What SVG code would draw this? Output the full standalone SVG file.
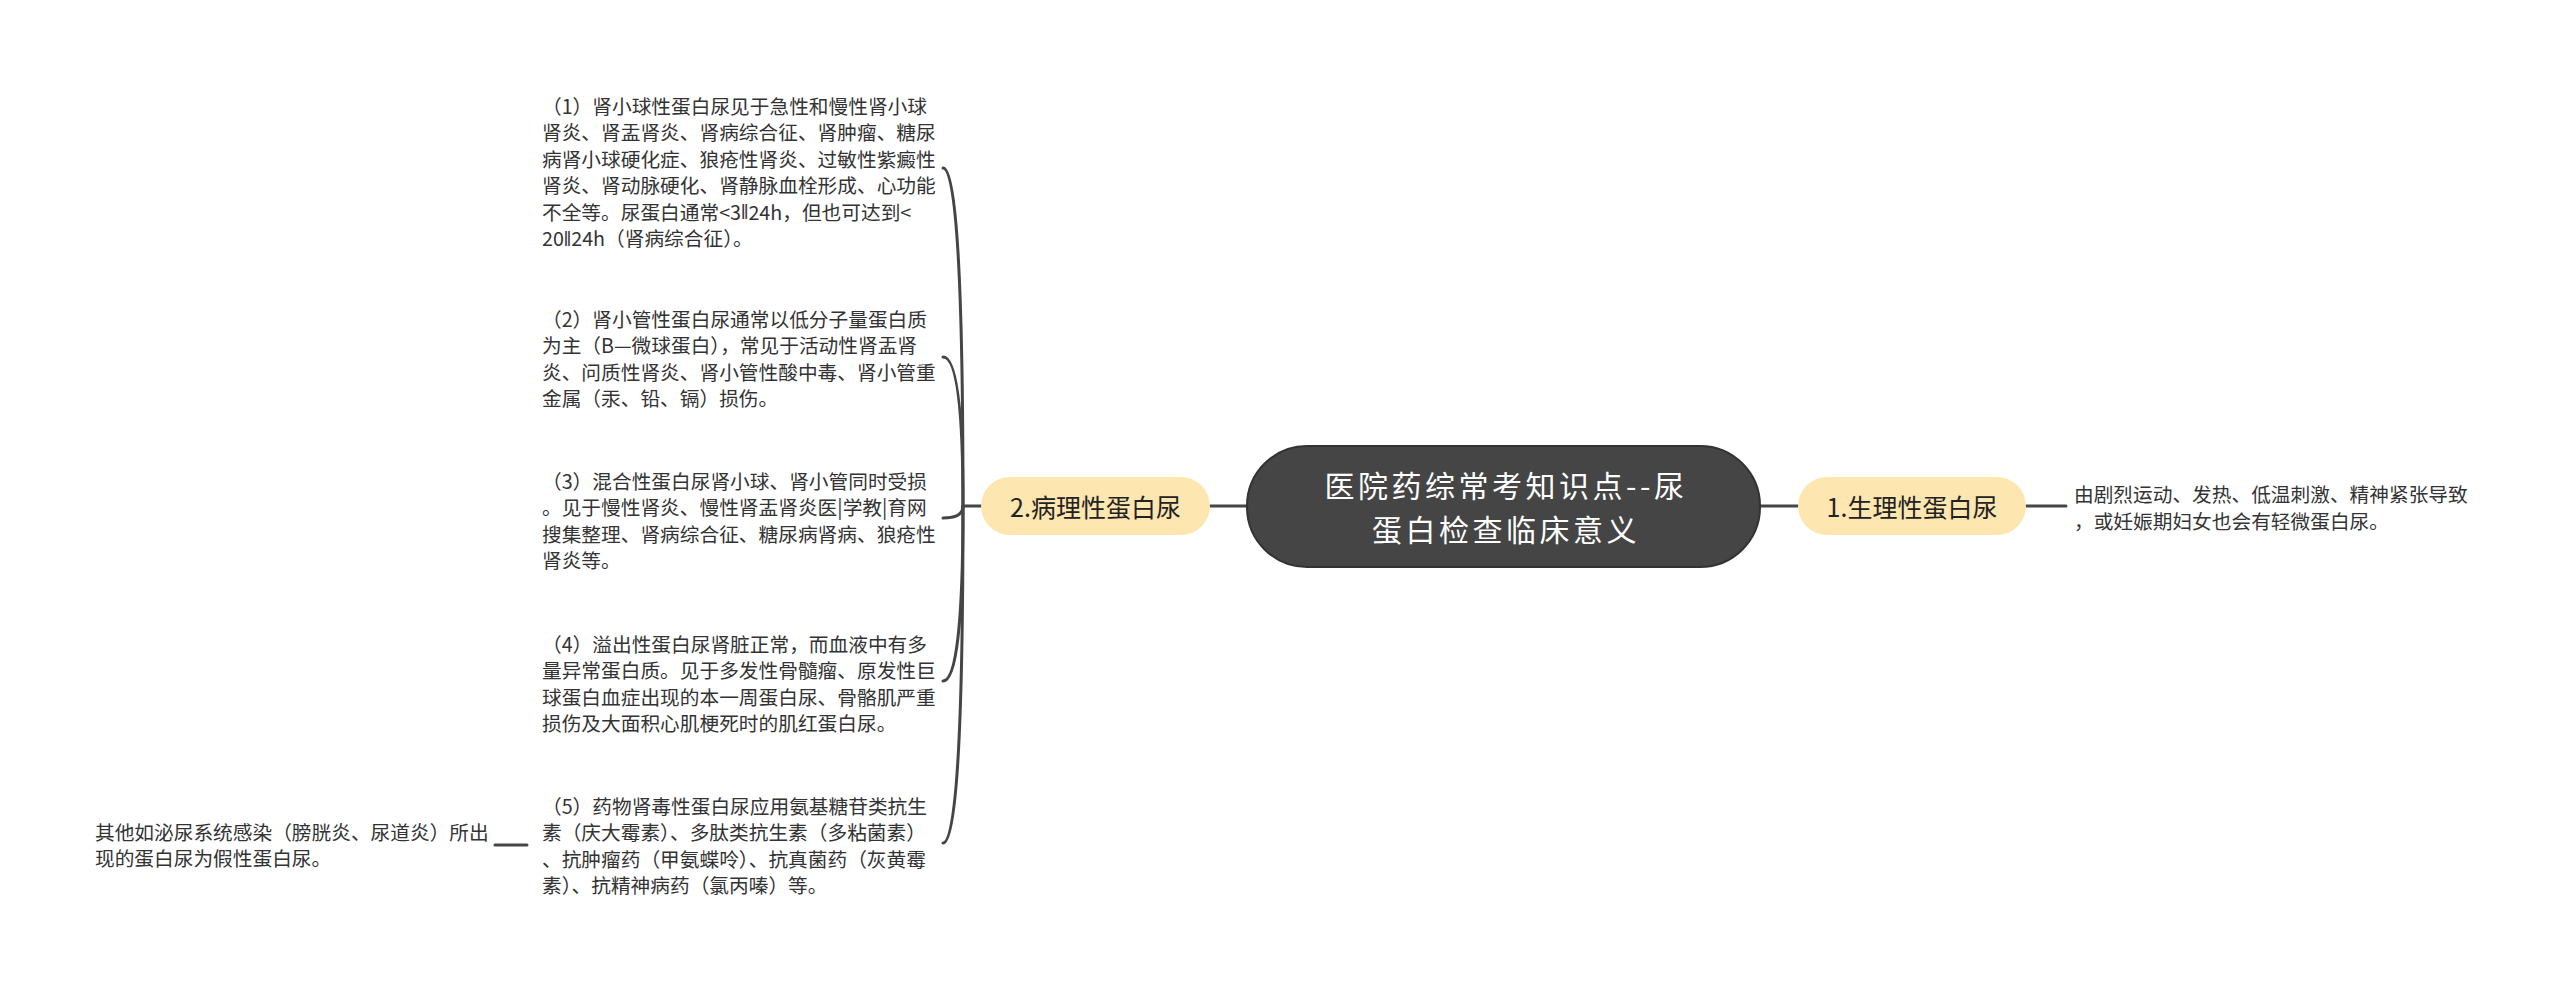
<svg xmlns="http://www.w3.org/2000/svg" width="2560" height="988" viewBox="0 0 2560 988">
<style>
  .bg { fill: #ffffff; }
  .conn { fill: none; stroke: #454545; stroke-width: 3; stroke-linecap: round; }
  .root { fill: #454545; stroke: #333333; stroke-width: 2; }
  .main { fill: #fde6b0; }
  .roott { font-family: "Noto Sans CJK SC", "Noto Sans", sans-serif; font-size: 30px; letter-spacing: 3.5px; fill: #ffffff; text-anchor: middle; dominant-baseline: central; }
  .maint { font-family: "Noto Sans CJK SC", "Noto Sans", sans-serif; font-size: 25px; fill: #222222; text-anchor: middle; dominant-baseline: central; }
  .leaf { font-family: "Noto Sans CJK SC", "Noto Sans", sans-serif; font-size: 19.7px; fill: #333333; dominant-baseline: central; }
  .bar { font-family: "DejaVu Sans", "Noto Sans", sans-serif; font-size: 15px; }
</style>
<rect class="bg" x="0" y="0" width="2560" height="988"/>
<g id="connectors">
  <path class="conn" d="M1247 506 L1210 506"/>
  <path class="conn" d="M1760 506 L1798 506"/>
  <path class="conn" d="M2026 506 L2066 506"/>
  <path class="conn" d="M981 506 L963 506"/>
  <path class="conn" d="M963 506 Q963 168 943 168"/>
  <path class="conn" d="M963 506 Q963 357 943 357"/>
  <path class="conn" d="M963 506 Q963 518 943 518"/>
  <path class="conn" d="M963 506 Q963 681 943 681"/>
  <path class="conn" d="M963 506 Q963 843 943 843"/>
  <path class="conn" d="M527 845 L495 845"/>
</g>
<g id="root">
  <rect class="root" x="1247" y="446" width="513" height="121" rx="60"/>
  <text class="roott" x="1506" y="484">医院药综常考知识点--尿</text>
  <text class="roott" x="1506" y="528">蛋白检查临床意义</text>
</g>
<g id="node-pathological">
  <rect class="main" x="981" y="477" width="229" height="58" rx="29"/>
  <text class="maint" x="1095.5" y="506">2.病理性蛋白尿</text>
</g>
<g id="node-physiological">
  <rect class="main" x="1798" y="477" width="228" height="58" rx="29"/>
  <text class="maint" x="1912" y="506">1.生理性蛋白尿</text>
</g>
<g id="leaf-physiological">
  <text class="leaf" x="2074" y="493">由剧烈运动、发热、低温刺激、精神紧张导致</text>
  <text class="leaf" x="2074" y="520">，或妊娠期妇女也会有轻微蛋白尿。</text>
</g>
<g id="leaf-1">
  <text class="leaf" x="542" y="105">（1）肾小球性蛋白尿见于急性和慢性肾小球</text>
  <text class="leaf" x="542" y="131.5">肾炎、肾盂肾炎、肾病综合征、肾肿瘤、糖尿</text>
  <text class="leaf" x="542" y="158">病肾小球硬化症、狼疮性肾炎、过敏性紫癜性</text>
  <text class="leaf" x="542" y="184.5">肾炎、肾动脉硬化、肾静脉血栓形成、心功能</text>
  <text class="leaf" x="542" y="211">不全等。尿蛋白通常&lt;3<tspan class="bar">ǁ</tspan>24h，但也可达到&lt;</text>
  <text class="leaf" x="542" y="237.5">20<tspan class="bar">ǁ</tspan>24h（肾病综合征）。</text>
</g>
<g id="leaf-2">
  <text class="leaf" x="542" y="318">（2）肾小管性蛋白尿通常以低分子量蛋白质</text>
  <text class="leaf" x="542" y="344.5">为主（B—微球蛋白），常见于活动性肾盂肾</text>
  <text class="leaf" x="542" y="371">炎、问质性肾炎、肾小管性酸中毒、肾小管重</text>
  <text class="leaf" x="542" y="397.5">金属（汞、铅、镉）损伤。</text>
</g>
<g id="leaf-3">
  <text class="leaf" x="542" y="480">（3）混合性蛋白尿肾小球、肾小管同时受损</text>
  <text class="leaf" x="542" y="506.5">。见于慢性肾炎、慢性肾盂肾炎医|学教|育网</text>
  <text class="leaf" x="542" y="533">搜集整理、肾病综合征、糖尿病肾病、狼疮性</text>
  <text class="leaf" x="542" y="559.5">肾炎等。</text>
</g>
<g id="leaf-4">
  <text class="leaf" x="542" y="643">（4）溢出性蛋白尿肾脏正常，而血液中有多</text>
  <text class="leaf" x="542" y="669.5">量异常蛋白质。见于多发性骨髓瘤、原发性巨</text>
  <text class="leaf" x="542" y="696">球蛋白血症出现的本一周蛋白尿、骨骼肌严重</text>
  <text class="leaf" x="542" y="722.5">损伤及大面积心肌梗死时的肌红蛋白尿。</text>
</g>
<g id="leaf-5">
  <text class="leaf" x="542" y="805">（5）药物肾毒性蛋白尿应用氨基糖苷类抗生</text>
  <text class="leaf" x="542" y="831.5">素（庆大霉素）、多肽类抗生素（多粘菌素）</text>
  <text class="leaf" x="542" y="858">、抗肿瘤药（甲氨蝶呤）、抗真菌药（灰黄霉</text>
  <text class="leaf" x="542" y="884.5">素）、抗精神病药（氯丙嗪）等。</text>
</g>
<g id="leaf-false">
  <text class="leaf" x="95" y="831">其他如泌尿系统感染（膀胱炎、尿道炎）所出</text>
  <text class="leaf" x="95" y="857.5">现的蛋白尿为假性蛋白尿。</text>
</g>
</svg>
